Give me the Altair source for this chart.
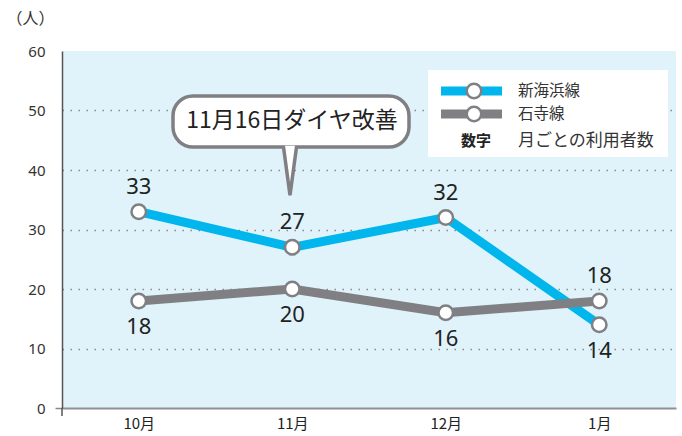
import altair as alt
import pandas as pd

# ---- data ----
months = ["10月", "11月", "12月", "1月"]
shinkaihin = [33, 27, 32, 14]   # 新海浜線
ishidera = [18, 20, 16, 18]     # 石寺線
series_names = ["新海浜線", "石寺線"]
legend_note = ["数字", "月ごとの利用者数"]
callout_text = "11月16日ダイヤ改善"
y_ticks = [0, 10, 20, 30, 40, 50, 60]
y_unit = "（人）"

CYAN = "#00b6ec"
GREY = "#808084"
BG = "#e0f3fa"
TXT = "#222222"
JP = "Noto Sans CJK JP"

df = pd.DataFrame({"month": months, "a": shinkaihin, "b": ishidera})

W, H = 614, 357

yscale = alt.Scale(domain=[0, 60], nice=False, zero=True)
x_enc = alt.X(
    "month:N", sort=months, title=None,
    axis=alt.Axis(labelAngle=0, labelFontSize=15, labelColor=TXT, labelFont=JP,
                  labelPadding=8, ticks=False, domainColor="#8f8f8f", domainWidth=2,
                  grid=False),
)
y_axis = alt.Axis(
    values=y_ticks, title=y_unit, titleAngle=0, titleAlign="left", titleBaseline="middle",
    titleX=-56, titleY=-33, titleFontSize=16, titleFontWeight="normal", titleFont=JP,
    titleColor="#333333",
    labelFontSize=15, labelColor="#333333", labelFont="Noto Sans", labelPadding=10,
    tickSize=7, tickWidth=1.5,
    tickColor={"expr": "datum.value == 0 ? '#888888' : 'transparent'"},
    domainColor="#555555", domainWidth=1.5,
    grid=True, gridDash=[1.5, 6.5], gridWidth=1.3,
    gridColor={"expr": "(datum.value == 0 || datum.value == 60) ? 'transparent' : '#8a8a8a'"},
)

base = alt.Chart(df).encode(x=x_enc)

line_a = base.mark_line(color=CYAN, strokeWidth=9).encode(
    y=alt.Y("a:Q", scale=yscale, axis=y_axis))
line_b = base.mark_line(color=GREY, strokeWidth=9).encode(
    y=alt.Y("b:Q", scale=yscale))

pt_kw = dict(filled=True, fill="white", stroke=GREY, strokeWidth=2.5, size=210, opacity=1)
pts_a = base.mark_point(**pt_kw).encode(y=alt.Y("a:Q", scale=yscale))
pts_b = base.mark_point(**pt_kw).encode(y=alt.Y("b:Q", scale=yscale))

lab_kw = dict(fontSize=22, color=TXT, font="Noto Sans", baseline="middle", align="center")
lab_a_up = base.transform_filter("datum.a >= datum.b").mark_text(dy=-25, **lab_kw).encode(
    y=alt.Y("a:Q", scale=yscale), text="a:Q")
lab_a_dn = base.transform_filter("datum.a < datum.b").mark_text(dy=26, **lab_kw).encode(
    y=alt.Y("a:Q", scale=yscale), text="a:Q")
lab_b_dn = base.transform_filter("datum.b <= datum.a").mark_text(dy=26, **lab_kw).encode(
    y=alt.Y("b:Q", scale=yscale), text="b:Q")
lab_b_up = base.transform_filter("datum.b > datum.a").mark_text(dy=-25, **lab_kw).encode(
    y=alt.Y("b:Q", scale=yscale), text="b:Q")

# ---- callout ----
cdf = pd.DataFrame({"t": [callout_text]})
c_box = alt.Chart(cdf).mark_rect(fill="white", stroke=GREY, strokeWidth=3.5, cornerRadius=20).encode(
    x=alt.value(111), x2=alt.value(347), y=alt.value(45), y2=alt.value(96))
c_tail = alt.Chart(cdf).mark_point(
    shape="M -0.27 -1 L 0 1 L 0.27 -1", filled=True, fill="white", stroke=GREY,
    strokeWidth=3.5, size=2450, opacity=1).encode(
    x=alt.value(228), y=alt.value(119.5))
c_text = alt.Chart(cdf).mark_text(fontSize=23, font=JP, color=TXT, align="center",
                                  baseline="middle").encode(
    x=alt.value(230), y=alt.value(70), text="t:N")

# ---- legend ----
ldf = pd.DataFrame({"name": series_names})
leg_box = alt.Chart(ldf).mark_rect(fill="white").encode(
    x=alt.value(366), x2=alt.value(606), y=alt.value(19), y2=alt.value(106))
leg_parts = []
for i, (nm, col) in enumerate(zip(series_names, [CYAN, GREY])):
    yy = 40 + 23 * i
    d = pd.DataFrame({"name": [nm]})
    leg_parts.append(alt.Chart(d).mark_rule(color=col, strokeWidth=9).encode(
        x=alt.value(379), x2=alt.value(440), y=alt.value(yy)))
    leg_parts.append(alt.Chart(d).mark_point(**pt_kw).encode(x=alt.value(412), y=alt.value(yy)))
    leg_parts.append(alt.Chart(d).mark_text(fontSize=15.5, font=JP, color="#333333", align="left",
                                            baseline="middle").encode(
        x=alt.value(456), y=alt.value(yy), text="name:N"))
ndf = pd.DataFrame({"k": [legend_note[0]], "v": [legend_note[1]]})
leg_parts.append(alt.Chart(ndf).mark_text(fontSize=15, font=JP, fontWeight="bold", color=TXT,
                                          align="center", baseline="middle").encode(
    x=alt.value(414), y=alt.value(90), text="k:N"))
leg_parts.append(alt.Chart(ndf).mark_text(fontSize=17, font=JP, color="#333333", align="left",
                                          baseline="middle").encode(
    x=alt.value(456), y=alt.value(90), text="v:N"))

axis_stub = alt.Chart(cdf).mark_rule(color="#555555", strokeWidth=1.5).encode(
    x=alt.value(0), y=alt.value(357), y2=alt.value(365))

chart = alt.layer(
    line_a, c_box, c_tail, c_text, leg_box, *leg_parts,
    line_b, pts_a, pts_b, lab_a_up, lab_a_dn, lab_b_dn, lab_b_up, axis_stub,
).properties(
    width=W, height=H,
    autosize=alt.AutoSizeParams(type="none"),
    padding={"left": 62, "top": 51, "right": 6, "bottom": 28},
).configure_view(fill=BG, stroke=None)

chart.save("out.html", embed_options={"renderer": "svg", "actions": False})
